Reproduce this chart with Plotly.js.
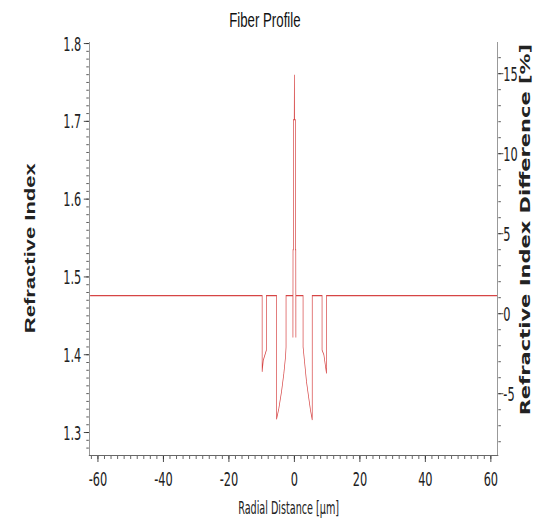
<!DOCTYPE html>
<html>
<head>
<meta charset="utf-8">
<script src="https://cdn.plot.ly/plotly-3.0.1.min.js"></script>
<style>
html,body{margin:0;padding:0;background:#fff;}
#wrap{width:533px;height:519px;overflow:hidden;position:relative;}
#plot{width:846px;height:519px;transform:scaleX(0.63);transform-origin:0 0;}
</style>
</head>
<body>
<div id="wrap"><div id="plot"></div></div>
<script>
// Radial distance [µm]
var radius = [-62.4, -9.85, -9.85, -9.5, -8.55, -8.55, -5.45, -5.45, -4.75, -3.92, -3.22, -2.7, -2.55, -2.55,
  -0.45, -0.45, -0.42, -0.3, -0.3, -0.05, 0,
  0.05, 0.3, 0.3, 0.42, 0.45, 0.45,
  2.65, 2.65, 3.1, 3.7, 4.4, 4.9, 5.45, 5.45, 8.45, 8.45, 9.0, 9.8, 9.8, 61.9];
// Refractive index
var refIndex = [1.476, 1.476, 1.378, 1.393, 1.406, 1.476, 1.476, 1.317, 1.331, 1.353, 1.376, 1.398, 1.410, 1.476,
  1.476, 1.422, 1.535, 1.535, 1.702, 1.702, 1.760,
  1.702, 1.702, 1.535, 1.535, 1.422, 1.476,
  1.476, 1.410, 1.391, 1.365, 1.344, 1.329, 1.316, 1.476, 1.476, 1.406, 1.400, 1.376, 1.476, 1.476];
var xTicks = [-60, -40, -20, 0, 20, 40, 60];
var yTicks = [1.3, 1.4, 1.5, 1.6, 1.7, 1.8];
var y2Ticks = [-5, 0, 5, 10, 15];

var FONT = 'Liberation Sans, Arial, sans-serif';
var WIDE = 'DejaVu Sans, Liberation Sans, sans-serif';
var NARROW = 'Liberation Sans Narrow, Arial Narrow, DejaVu Sans Condensed, Liberation Sans, sans-serif';
var traces = [
  {x: radius, y: refIndex, type: 'scatter', mode: 'lines', line: {color: '#d64545', width: 1.1, simplify: false},
   xaxis: 'x', yaxis: 'y', showlegend: false, hoverinfo: 'skip'},
  {x: [null], y: [null], type: 'scatter', mode: 'lines', line: {color: 'rgba(0,0,0,0)', width: 0},
   xaxis: 'x', yaxis: 'y2', showlegend: false, hoverinfo: 'skip'}
];
var axCommon = {showgrid: false, zeroline: false, showline: true, ticks: 'outside', automargin: false,
  tickfont: {family: NARROW, size: 20, color: '#222'}, tickcolor: '#222'};
var layout = {
  width: 846, height: 519,
  margin: {l: 143, r: 57, t: 42, b: 64, pad: 0},
  paper_bgcolor: '#fff', plot_bgcolor: '#fff',
  showlegend: false,
  title: {text: 'Fiber Profile', font: {family: FONT, size: 21, color: '#111'},
    xref: 'container', x: 0.497, xanchor: 'center', yref: 'container', y: 1 - 20/519, yanchor: 'middle'},
  xaxis: Object.assign({}, axCommon, {range: [-62.4, 61.9], tickvals: xTicks, ticktext: xTicks.map(String),
    ticklen: 6, linecolor: '#444', linewidth: 1,
    minor: {dtick: 2, tick0: 0, ticks: 'outside', ticklen: 3, tickcolor: '#444'}}),
  yaxis: Object.assign({}, axCommon, {range: [1.2711, 1.802], tickvals: yTicks, ticktext: yTicks.map(function(v){return v.toFixed(1);}),
    ticklen: 8, linecolor: '#999', linewidth: 2,
    minor: {dtick: 0.01, tick0: 0, ticks: 'outside', ticklen: 4, tickcolor: '#333'}}),
  yaxis2: Object.assign({}, axCommon, {range: [-8.83, 16.98], overlaying: 'y', side: 'right', anchor: 'x',
    tickvals: y2Ticks, ticktext: y2Ticks.map(String), ticklabelstandoff: -4,
    ticklen: 8, linecolor: '#999', linewidth: 2,
    minor: {dtick: 1, tick0: 0, ticks: 'outside', ticklen: 4, tickcolor: '#333'}}),
  annotations: [
    {text: 'Radial Distance [µm]', xref: 'paper', yref: 'paper', x: 0.488, y: (454.5 - 507.5) / 412.8, xanchor: 'center', yanchor: 'middle',
      showarrow: false, font: {family: NARROW, size: 17, color: '#222'}},
    {text: '<b>Refractive Index</b>', xref: 'paper', yref: 'paper', x: -0.1474, y: 0.5027, xanchor: 'center', yanchor: 'middle',
      textangle: -90, showarrow: false, font: {family: FONT, size: 22, color: '#222'}},
    {text: '<b>Refractive Index Difference [%]</b>', xref: 'paper', yref: 'paper', x: (525 - 90) / 407, y: 0.5475, xanchor: 'center', yanchor: 'middle',
      textangle: -90, showarrow: false, font: {family: WIDE, size: 21, color: '#222'}}
  ]
};
Plotly.newPlot('plot', traces, layout, {staticPlot: true, displayModeBar: false});
</script>
</body>
</html>
